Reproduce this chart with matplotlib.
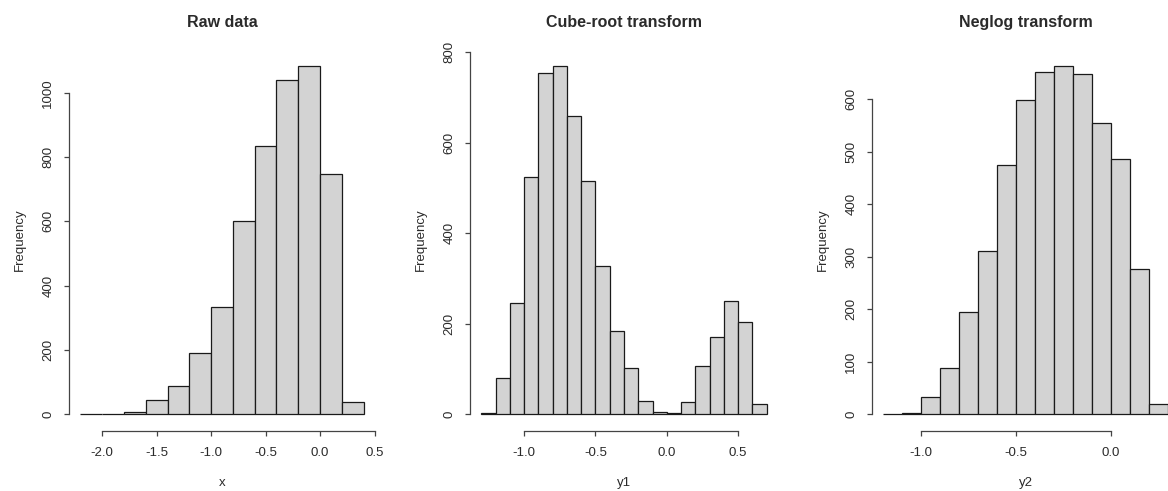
import numpy as np
import matplotlib
matplotlib.use("Agg")
import matplotlib.pyplot as plt

plt.rcParams['font.family'] = ['Liberation Sans', 'DejaVu Sans']
plt.rcParams['axes.unicode_minus'] = False

# raw data histogram (bin width 0.2)
raw_edges = [-2.2, -2.0, -1.8, -1.6, -1.4, -1.2, -1.0, -0.8, -0.6, -0.4, -0.2, 0.0, 0.2, 0.4]
raw_counts = [0, 0, 5, 45, 87, 189, 333, 602, 835, 1040, 1084, 747, 38]

# cube-root transform (bin width 0.1)
cube_edges = [-1.3, -1.2, -1.1, -1.0, -0.9, -0.8, -0.7, -0.6, -0.5, -0.4, -0.3,
              -0.2, -0.1, 0.0, 0.1, 0.2, 0.3, 0.4, 0.5, 0.6, 0.7]
cube_counts = [3, 80, 246, 525, 755, 770, 660, 516, 327, 184, 103,
               28, 5, 2, 27, 106, 170, 249, 204, 22]

# neglog transform (bin width 0.1)
neglog_edges = [-1.2, -1.1, -1.0, -0.9, -0.8, -0.7, -0.6, -0.5, -0.4, -0.3,
                -0.2, -0.1, 0.0, 0.1, 0.2, 0.3]
neglog_counts = [0, 2, 32, 88, 194, 311, 475, 598, 652, 663, 647, 555, 486, 277, 19]

titles = ["Raw data", "Cube-root transform", "Neglog transform"]
xlabels = ["x", "y1", "y2"]
xticks = [[-2.0, -1.5, -1.0, -0.5, 0.0, 0.5], [-1.0, -0.5, 0.0, 0.5], [-1.0, -0.5, 0.0]]
yticks = [[0, 200, 400, 600, 800, 1000], [0, 200, 400, 600, 800],
          [0, 100, 200, 300, 400, 500, 600]]

W, H = 1168, 491
fig = plt.figure(figsize=(W / 100, H / 100), dpi=100)

# plot boxes in pixels: left, right
boxes = [(69, 375), (470, 778), (872, 1179)]
top_px, bot_px = 52, 428

panels = [(raw_edges, raw_counts), (cube_edges, cube_counts), (neglog_edges, neglog_counts)]
txt = "#2a2a2a"

for i, (edges, counts) in enumerate(panels):
    l, r = boxes[i]
    ax = fig.add_axes([l / W, 1 - bot_px / H, (r - l) / W, (bot_px - top_px) / H])
    edges = np.array(edges)
    counts = np.array(counts)
    widths = np.diff(edges)
    ax.bar(edges[:-1], counts, width=widths, align='edge', color='#d3d3d3',
           edgecolor='#1a1a1a', linewidth=0.9)
    rng = edges[-1] - edges[0]
    ax.set_xlim(edges[0] - 0.04 * rng, edges[-1] + 0.04 * rng)
    ymax = counts.max()
    ax.set_ylim(-0.04 * ymax, 1.04 * ymax)

    for s in ['top', 'right']:
        ax.spines[s].set_visible(False)
    ax.spines['left'].set_bounds(yticks[i][0], yticks[i][-1])
    ax.spines['bottom'].set_bounds(xticks[i][0], xticks[i][-1])
    ax.spines['bottom'].set_position(('outward', 2.5))
    for s in ['left', 'bottom']:
        ax.spines[s].set_linewidth(0.9)
        ax.spines[s].set_color('#444444')

    ax.set_xticks(xticks[i])
    ax.set_xticklabels(["%.1f" % v for v in xticks[i]])
    ax.set_yticks(yticks[i])
    ax.set_yticklabels([str(v) for v in yticks[i]], rotation=90, va='center')
    ax.tick_params(axis='both', length=3.5, width=0.9, color='#444444',
                   labelsize=9.5, labelcolor=txt)
    ax.tick_params(axis='x', pad=8)
    ax.tick_params(axis='y', pad=7)

    ax.set_title(titles[i], fontsize=11.5, fontweight='bold', color=txt, pad=18)
    ax.set_xlabel(xlabels[i], fontsize=9.5, color=txt)
    ax.set_ylabel("Frequency", fontsize=9.5, color=txt)
    ax.xaxis.set_label_coords(0.5, -55 / (bot_px - top_px), transform=ax.transAxes)
    ax.yaxis.set_label_coords(-49 / (r - l), 0.5, transform=ax.transAxes)
    ax.xaxis.label.set_va('center')
    ax.yaxis.label.set_va('center')

fig.savefig("out.png", dpi=100, facecolor='white')
